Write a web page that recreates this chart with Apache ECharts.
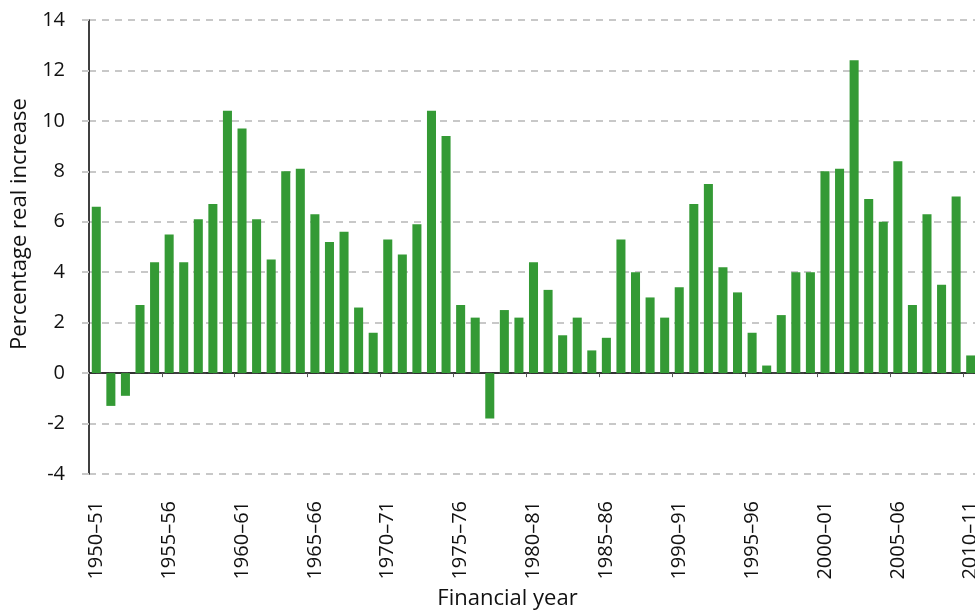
<!DOCTYPE html>
<html>
<head>
<meta charset="utf-8">
<script src="https://cdn.jsdelivr.net/npm/echarts@6/dist/echarts.min.js"></script>
<style>
  html, body { margin: 0; padding: 0; background: #fff; }
  #chart { width: 975px; height: 616px; }
</style>
</head>
<body>
<div id="chart"></div>
<script>
// financial years 1950-51 .. 2010-11
const years = [];
for (let y = 1950; y <= 2010; y++) {
  years.push(y + '\u2013' + String((y + 1) % 100).padStart(2, '0'));
}

// percentage real increase
const increase = [
  6.6, -1.3, -0.9, 2.7, 4.4, 5.5, 4.4, 6.1, 6.7, 10.4,
  9.7, 6.1, 4.5, 8.0, 8.1, 6.3, 5.2, 5.6, 2.6, 1.6,
  5.3, 4.7, 5.9, 10.4, 9.4, 2.7, 2.2, -1.8, 2.5, 2.2,
  4.4, 3.3, 1.5, 2.2, 0.9, 1.4, 5.3, 4.0, 3.0, 2.2,
  3.4, 6.7, 7.5, 4.2, 3.2, 1.6, 0.3, 2.3, 4.0, 4.0,
  8.0, 8.1, 12.4, 6.9, 6.0, 8.4, 2.7, 6.3, 3.5, 7.0,
  0.7
];

const yMin = -4, yMax = 14, yStep = 2;
const font = 'Open Sans';

const chart = echarts.init(document.getElementById('chart'));
chart.setOption({
  animation: false,
  grid: { left: 89, right: -3, top: 20, bottom: 142, outerBoundsMode: 'none', containLabel: false },
  xAxis: [
    {
      // axis line at zero, ticks between bars
      type: 'category',
      data: years,
      axisLine: { onZero: true, lineStyle: { color: '#000', width: 1.5 } },
      axisTick: { show: true, length: 4, lineStyle: { color: '#555' } },
      axisLabel: { show: false },
      splitLine: { show: false }
    },
    {
      // labels along the bottom
      type: 'category',
      data: years,
      position: 'bottom',
      axisLine: { show: false, onZero: false },
      axisTick: { show: false },
      axisLabel: {
        interval: 4,
        rotate: 90,
        margin: 27,
        fontFamily: font,
        fontSize: 20,
        color: '#111'
      },
      name: 'Financial year',
      nameLocation: 'middle',
      nameGap: 114,
      nameTextStyle: { fontFamily: font, fontSize: 22, color: '#111', padding: [0, 52, 0, 0] }
    }
  ],
  yAxis: {
    type: 'value',
    min: yMin,
    max: yMax,
    interval: yStep,
    axisLine: { show: true, onZero: false, lineStyle: { color: '#000', width: 1.5 } },
    axisTick: { show: true, length: 7, lineStyle: { color: '#c8c8c8', width: 2 } },
    axisLabel: { margin: 24, fontFamily: font, fontSize: 20, color: '#111' },
    splitLine: { show: true, lineStyle: { color: '#c8c8c8', width: 2, type: [7, 6] } },
    name: 'Percentage real increase',
    nameLocation: 'middle',
    nameGap: 58,
    nameTextStyle: { fontFamily: font, fontSize: 22, color: '#111', padding: [0, 0, 0, 46] }
  },
  series: [
    {
      type: 'bar',
      xAxisIndex: 0,
      data: increase,
      barCategoryGap: '38%',
      itemStyle: { color: '#349a35' }
    }
  ]
});
</script>
</body>
</html>
